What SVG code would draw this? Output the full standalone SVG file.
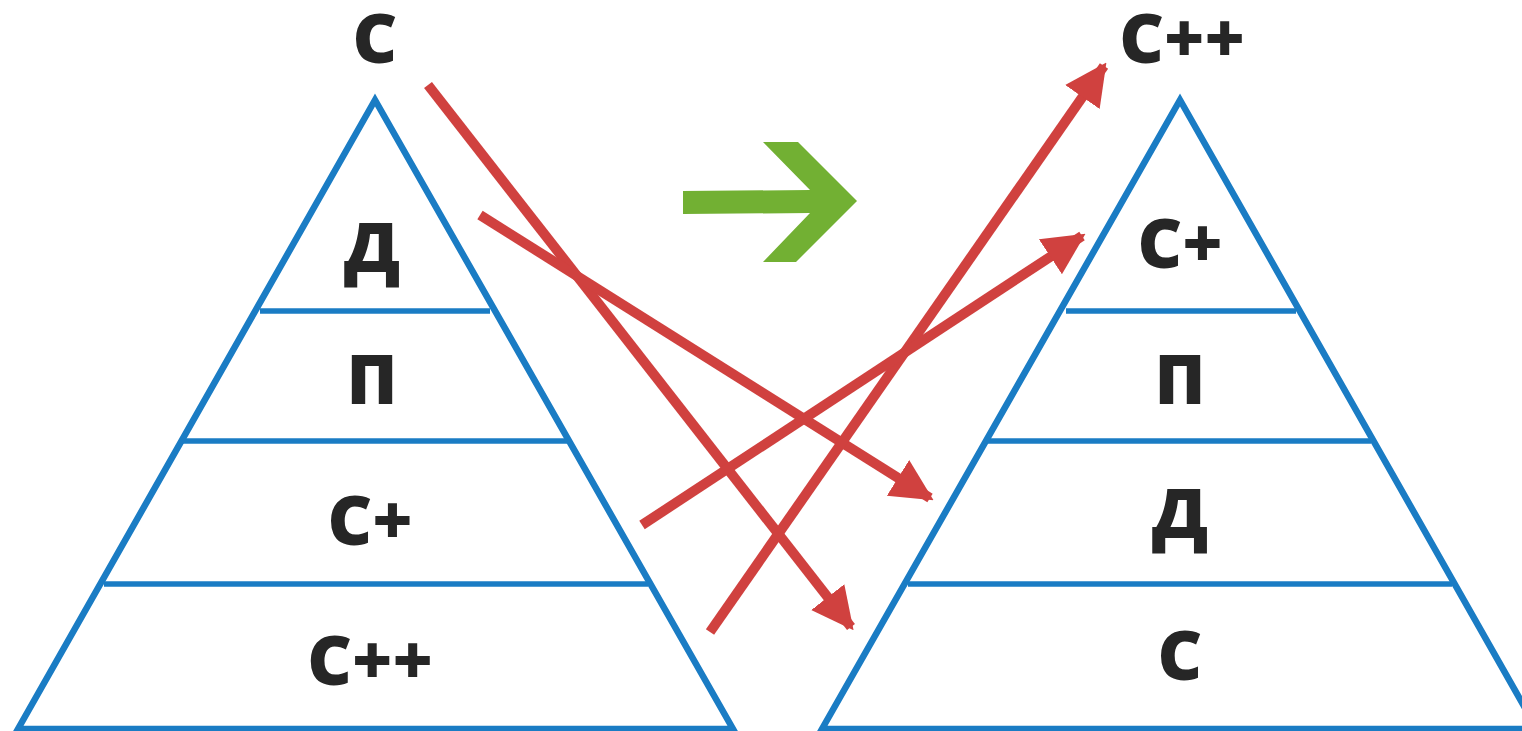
<svg xmlns="http://www.w3.org/2000/svg" width="1522" height="731" viewBox="0 0 1522 731">
<style>
.pyr{fill:none;stroke:#1a7cc4;stroke-width:6.5;stroke-linejoin:miter}
.tier{stroke:#1a7cc4;stroke-width:5.5}
.lbl{font-family:"Open Sans","DejaVu Sans",sans-serif;font-weight:800;font-size:69px;fill:#262626;text-anchor:middle}
.red{stroke:#d0413f;stroke-width:10;fill:none}
</style>
<defs>
<marker id="ah" viewBox="0 0 10 10" refX="9" refY="5" markerWidth="4.2" markerHeight="4.6" markerUnits="strokeWidth" orient="auto">
<path d="M0,0 L10,5 L0,10 z" fill="#d0413f"/>
</marker>
</defs>
<rect width="1522" height="731" fill="#fff"/>
<g id="pyramid-left">
<path class="pyr" d="M375,100 L18,729 L733,729 Z"/>
<line class="tier" x1="260" y1="311" x2="490" y2="311"/>
<line class="tier" x1="183" y1="441" x2="568" y2="441"/>
<line class="tier" x1="104" y1="584" x2="648" y2="584"/>
</g>
<g id="pyramid-right">
<path class="pyr" d="M1537,729 L1180,100 L822,729 L1540,729"/>
<line class="tier" x1="1066" y1="311" x2="1296" y2="311"/>
<line class="tier" x1="988" y1="441" x2="1371" y2="441"/>
<line class="tier" x1="908" y1="584" x2="1452" y2="584"/>
</g>
<g id="labels-left">
<text class="lbl" x="375" y="63">С</text>
<text class="lbl" x="372" y="272">Д</text>
<text class="lbl" x="372" y="404">П</text>
<text class="lbl" x="370" y="545">С+</text>
<text class="lbl" x="370" y="685">С++</text>
</g>
<g id="labels-right">
<text class="lbl" x="1182" y="63">С++</text>
<text class="lbl" x="1180" y="268">С+</text>
<text class="lbl" x="1180" y="404">П</text>
<text class="lbl" x="1180" y="538">Д</text>
<text class="lbl" x="1180" y="680">С</text>
</g>
<g id="green-arrow">
<polygon fill="#72b033" points="683,191 810,190 763,142 798,142 857,201 796,262 763,262 810,213 683,214"/>
</g>
<g id="connectors">
<line class="red" x1="428" y1="85" x2="851" y2="627" marker-end="url(#ah)"/>
<line class="red" x1="480" y1="215" x2="930" y2="498" marker-end="url(#ah)"/>
<line class="red" x1="710" y1="632" x2="1104" y2="66" marker-end="url(#ah)"/>
<line class="red" x1="642" y1="525" x2="1082" y2="236" marker-end="url(#ah)"/>
</g>
</svg>
